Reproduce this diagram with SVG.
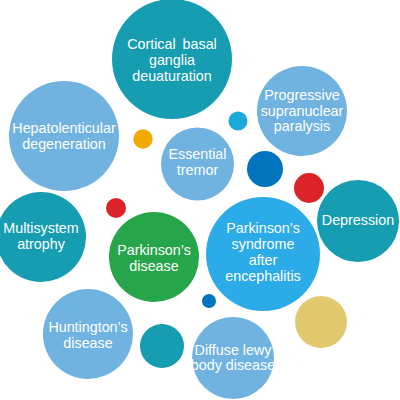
<svg xmlns="http://www.w3.org/2000/svg" width="400" height="400" viewBox="0 0 400 400">
<style>
.t{font-family:"Liberation Sans",Arial,sans-serif;font-size:14.3px;fill:#fff;text-anchor:middle}
.teal{fill:#169DB1}
.lb{fill:#70B3E1}
.red{fill:#DC2329}
</style>
<rect width="400" height="400" fill="#fff"/>
<g id="cortical"><circle class="teal" cx="172" cy="59" r="60"/><text class="t"><tspan x="172" y="49" word-spacing="3">Cortical basal</tspan><tspan x="172" y="65">ganglia</tspan><tspan x="172" y="81">deuaturation</tspan></text></g>
<g id="hepato"><circle class="lb" cx="64" cy="136" r="55"/><text class="t"><tspan x="64" y="133">Hepatolenticular</tspan><tspan x="64" y="149">degeneration</tspan></text></g>
<g id="progressive"><circle class="lb" cx="302" cy="111" r="45"/><text class="t"><tspan x="302" y="100">Progressive</tspan><tspan x="302" y="115.5">supranuclear</tspan><tspan x="302" y="131">paralysis</tspan></text></g>
<g id="essential"><circle class="lb" cx="197.5" cy="164" r="36.5"/><text class="t"><tspan x="197.5" y="159">Essential</tspan><tspan x="197.5" y="175">tremor</tspan></text></g>
<g id="multisystem"><circle class="teal" cx="41" cy="237" r="45"/><text class="t"><tspan x="41" y="233">Multisystem</tspan><tspan x="41" y="249">atrophy</tspan></text></g>
<g id="parkinson"><circle fill="#27A54A" cx="154" cy="257" r="45"/><text class="t"><tspan x="154" y="255">Parkinson’s</tspan><tspan x="154" y="271">disease</tspan></text></g>
<g id="postenc"><circle fill="#2BABE8" cx="263" cy="254" r="57"/><text class="t"><tspan x="263" y="233">Parkinson’s</tspan><tspan x="263" y="249">syndrome</tspan><tspan x="263" y="265">after</tspan><tspan x="263" y="281">encephalitis</tspan></text></g>
<g id="depression"><circle class="teal" cx="358" cy="221" r="41"/><text class="t" x="358" y="225">Depression</text></g>
<g id="huntington"><circle class="lb" cx="88" cy="334" r="45"/><text class="t"><tspan x="88" y="332">Huntington’s</tspan><tspan x="88" y="348">disease</tspan></text></g>
<g id="lewy"><circle class="lb" cx="233" cy="358" r="41"/><text class="t"><tspan x="233" y="355">Diffuse lewy</tspan><tspan x="233" y="370">body disease</tspan></text></g>
<g id="dots">
<circle fill="#F0AA00" cx="143" cy="139" r="9.7"/>
<circle fill="#1BA9DC" cx="238" cy="121" r="9.5"/>
<circle fill="#0074BD" cx="265" cy="169" r="18"/>
<circle class="red" cx="309" cy="188" r="15"/>
<circle class="red" cx="116" cy="208" r="10"/>
<circle class="teal" cx="162" cy="346" r="22"/>
<circle fill="#0074BD" cx="209" cy="301" r="7"/>
<circle fill="#E2C96F" cx="321" cy="322" r="26"/>
</g>
<g id="connectors"/>
</svg>
